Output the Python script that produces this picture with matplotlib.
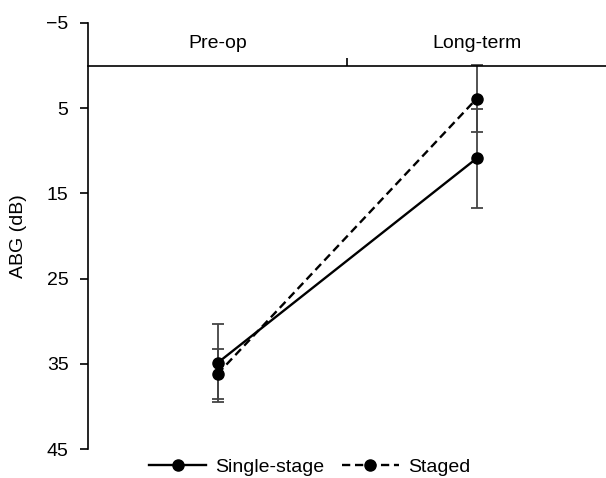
import matplotlib.pyplot as plt
import numpy as np

plt.rcParams['font.family'] = ['Liberation Sans', 'DejaVu Sans']

categories = ["Pre-op", "Long-term"]
single_mean = [34.9, 10.9]
single_sd = [4.6, 5.85]
staged_mean = [36.2, 3.9]
staged_sd = [2.9, 3.95]

x = np.arange(len(categories)) + 0.5

fig = plt.figure(figsize=(6.06, 4.78), dpi=100)
ax = fig.add_axes([88/606, 1 - 449/478, 1 - 88/606, (449 - 23)/478])

# error bars in grey, then lines with markers on top
ax.errorbar(x, single_mean, yerr=single_sd, fmt='none', ecolor='#444444',
            elinewidth=1.3, capsize=4, capthick=1.3, zorder=2)
ax.errorbar(x, staged_mean, yerr=staged_sd, fmt='none', ecolor='#444444',
            elinewidth=1.3, capsize=4, capthick=1.3, zorder=2)
ax.plot(x, single_mean, color='black', linestyle='-', linewidth=1.7,
        marker='o', markersize=8, label="Single-stage", zorder=3)
ax.plot(x, staged_mean, color='black', linestyle=(0, (3.5, 2)), linewidth=1.7,
        marker='o', markersize=8, label="Staged", zorder=3)

ax.set_xlim(0, 2)
ax.set_ylim(45, -5)
ax.set_yticks([-5, 5, 15, 25, 35, 45])
ax.tick_params(axis='y', direction='out', length=6, width=1.2, labelsize=14, pad=8)
ax.set_ylabel("ABG (dB)", fontsize=14, labelpad=14)

# x axis drawn at y = 0 across the top
ax.spines['right'].set_visible(False)
ax.spines['bottom'].set_visible(False)
ax.spines['top'].set_position(('data', 0))
ax.spines['top'].set_linewidth(1.2)
ax.spines['left'].set_linewidth(1.2)
ax.xaxis.tick_top()
ax.set_xticks([1])
ax.set_xticklabels([""])
ax.set_xticks(x, minor=True)
ax.set_xticklabels(categories, minor=True)
ax.tick_params(axis='x', which='major', direction='out', length=6, width=1.2)
ax.tick_params(axis='x', which='minor', length=0, pad=10, labelsize=14)

fig.legend(loc='center', bbox_to_anchor=(310/606, 1 - 467/478), ncol=2,
           frameon=False, fontsize=14, handlelength=2.9, handletextpad=0.5,
           columnspacing=0.9, borderpad=0)

plt.savefig("out.png", dpi=100)
